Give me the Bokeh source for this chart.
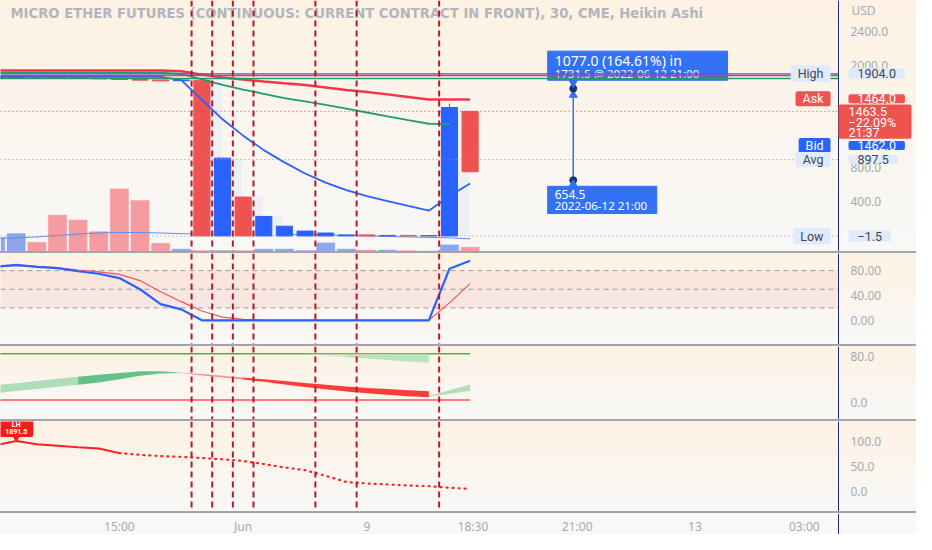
from bokeh.plotting import figure
from bokeh.layouts import column
from bokeh.models import (Range1d, FixedTicker, Span, Label, BoxAnnotation, Spacer,
                          NumeralTickFormatter, ColumnDataSource, LinearAxis)
from bokeh.core.properties import value
from bokeh.embed import file_html
from bokeh.resources import INLINE

# ---------------- data ----------------
bar_idx = list(range(-1, 23))
ha_open = [1850, 1855, 1872, 1866, 1858, 1852, 1846, 1838, 1832, 1824, 1829, 0, 457, 0, 0, 0, 0, 0, 12, 0, 6, 0, 0, 1463]
ha_close = [1880, 1875, 1866, 1858, 1852, 1846, 1838, 1830, 1822, 1832, 0, 914, 0, 229, 114, 57, 34, 12, 0, 6, 0, 4, 1509, 754]
wick_idx = [21]
wick_high = [1555]
ghost_idx = [9, 10, 11, 12, 21]
ghost_top = [1817, 903, 457, 229, 1540]
volume = [1500, 1900, 1000, 3800, 3300, 2100, 6500, 5300, 900, 300, 150, 150, 150, 300, 300, 150, 950, 300, 200, 200, 150, 100, 750, 500]
volume_ma = [1350, 1400, 1500, 1650, 1800, 1900, 1970, 1950, 1900, 1830, 1800, 1800, 1800, 1790, 1770, 1740, 1700, 1650, 1600, 1550, 1500, 1450, 1400, 1300]
ema_red = [1943, 1943, 1943, 1943, 1943, 1943, 1943, 1943, 1943, 1935, 1895, 1862, 1838, 1815, 1793, 1772, 1745, 1715, 1690, 1663, 1633, 1603, 1603, 1603]
ema_green = [1918, 1918, 1918, 1918, 1918, 1918, 1918, 1918, 1918, 1905, 1840, 1775, 1720, 1670, 1620, 1580, 1540, 1495, 1450, 1405, 1360, 1318, 1316]
vwap_blue = [1870, 1870, 1870, 1870, 1870, 1870, 1870, 1870, 1868, 1830, 1600, 1370, 1178, 1008, 864, 733, 626, 539, 468, 410, 352, 297, 469, 617]
level_high, level_red, level_green = 1904.0, 1886.0, 1851.0
last_price, avg_price, low_price = 1464.0, 897.5, -1.5
price_ticks = [400, 800, 1200, 1600, 2000, 2400]
last_lines = ["1463.5", "\u221222.09%", "21:37"]

stoch_k = [86, 89.4, 86, 84, 79, 75, 68, 50, 26, 17.6, 0, 0, 0, 0, 0, 0, 0, 0, 0, 0, 0, 0, 83, 96]
stoch_d = [86, 88, 87, 85, 81, 78, 74, 64, 46, 30, 15, 5, 1.5, 0, 0, 0, 0, 0, 0, 0, 0, 0, 28, 59]
stoch_levels = [80, 50, 20]
stoch_ticks = [0, 40, 80]

cloud_up_idx = list(range(-1, 9))
cloud_up_top = [30, 33, 37, 41, 44.5, 48, 51, 54, 54, 51.5]
cloud_up_bot = [16, 19.5, 23, 27, 30.5, 34.5, 40, 46, 50, 51]
cloud_dn_idx = list(range(8, 21))
cloud_dn_top = [51.5, 49, 46, 43, 40, 37, 33.5, 30.5, 27.5, 25, 23, 21, 19]
cloud_dn_bot = [51, 46.5, 43, 39.5, 35.5, 31, 26.5, 22.5, 18.5, 15.5, 13, 10.5, 8.6]
cloud_end_idx = [20, 21, 22]
cloud_end_top = [11, 21, 31]
cloud_end_bot = [9.5, 15, 19.6]
top_band_idx = list(range(14, 21))
top_band_bot = [83.5, 81, 78.5, 76, 73.5, 71, 68.7]
upper_level, lower_level = 84.6, 4.0
cloud_ticks = [0, 80]

lh_solid_idx = list(range(-1, 6))
lh_solid = [93, 101.4, 95, 92, 89, 86.3, 77]
lh_dot_idx = list(range(5, 23))
lh_dot = [77, 73.5, 71, 69.5, 67, 64.5, 61, 55, 48, 42.5, 31, 18.5, 15.5, 13.5, 11.5, 10, 7, 4.5]
lh_ticks = [0, 50, 100]

event_lines = [8.5, 9.5, 10.5, 11.5, 14.5, 16.5, 20.5]
time_ticks = [-1, 5, 11, 17, 22.14, 27.19, 32.9, 38.2]
time_labels = ["12:00", "15:00", "Jun", "9", "18:30", "21:00", "13", "03:00"]

ruler_x, ruler_top, ruler_bot = 27, 1731.5, 654.5

# ---------------- layout / styling ----------------
W = 916
FW = 838                      # width of the chart area left of the price scale
H1, H2, H3, H4, H5 = 251, 91, 73, 90, 21
X0, XB = -0.762, 39.857       # visible bar range of the chart area
X1 = X0 + (XB - X0) * W / FW  # frame continues under the price scale
NAVY = "#1f2b6b"
RED = "#ef5350"
BLUE = "#2962ff"
GREEN = "#1e9e6e"
AX_TXT = "#a6a9b2"
DASH_RED = "#b2182b"
FONT = "Noto Sans"
TAGFONT = "Roboto"
GRAD = {"background": "linear-gradient(180deg, #fdf2e3 0%, #f8f8f7 100%)"}

xr = Range1d(X0, X1)


def pane(h, y0, y1, ticks, fmt):
    p = figure(width=W, height=h, x_range=xr, y_range=Range1d(y0, y1),
               output_backend="svg", toolbar_location=None,
               x_axis_location=None, y_axis_location=None,
               min_border_left=0, min_border_right=0, min_border_top=0, min_border_bottom=0,
               background_fill_color=None, border_fill_color=None, outline_line_color=None)
    p.grid.visible = False
    ax = LinearAxis(fixed_location=XB, ticker=FixedTicker(ticks=ticks),
                    formatter=NumeralTickFormatter(format=fmt))
    ax.axis_line_color = NAVY
    ax.axis_line_width = 1
    ax.major_tick_line_color = None
    ax.minor_tick_line_color = None
    ax.major_tick_out = 0
    ax.major_tick_in = 0
    ax.major_label_text_color = AX_TXT
    ax.major_label_text_font = FONT
    ax.major_label_text_font_size = "12px"
    ax.major_label_standoff = 12
    p.add_layout(ax, "right")
    p.styles = GRAD
    return p


def hline(p, y, **kw):
    p.segment(x0=[X0], y0=[y], x1=[XB], y1=[y], **kw)


def add_events(p):
    for v in event_lines:
        p.add_layout(Span(location=v, dimension="height", line_color=DASH_RED,
                          line_width=2, line_dash="6 4"))


def sep():
    return Spacer(width=W, height=2, margin=0, styles={"background-color": "#a3a5ab"})


# ---------------- main pane ----------------
p1 = pane(H1, -183, 2766, price_ticks, "0.0")
p1.extra_y_ranges = {"vol": Range1d(0, 25800)}

vol_colors, candle_colors, tops, bots = [], [], [], []
for o, c in zip(ha_open, ha_close):
    up = c >= o
    candle_colors.append(BLUE if up else RED)
    vol_colors.append("#8ea6ec" if up else "#f59ca1")
    tops.append(max(o, c))
    bots.append(min(o, c))

src = ColumnDataSource(dict(x=bar_idx, top=tops, bottom=bots, col=candle_colors,
                            vol=volume, vcol=vol_colors))
p1.vbar(x="x", top="vol", bottom=0, width=0.94, fill_color="vcol", line_color="white",
        line_width=0.6, source=src, y_range_name="vol")
p1.line(bar_idx, volume_ma, y_range_name="vol", line_color="#5b8def", line_width=1)
p1.vbar(x=[i + 0.67 for i in ghost_idx], top=ghost_top, bottom=0, width=0.57,
        fill_color="#eceff3", line_color=None)
p1.segment(x0=wick_idx, y0=[tops[bar_idx.index(i)] for i in wick_idx], x1=wick_idx,
           y1=wick_high, line_color=BLUE, line_width=1)
p1.vbar(x="x", top="top", bottom="bottom", width=0.78, fill_color="col", line_color="col",
        source=src)
p1.line(bar_idx, ema_red, line_color="#f23645", line_width=2.5)
p1.line(bar_idx[:len(ema_green)], ema_green, line_color=GREEN, line_width=1.8)
p1.line(bar_idx, vwap_blue, line_color=BLUE, line_width=1.8)

hline(p1, last_price, line_color="#f23645", line_width=1, line_dash="1 3")
hline(p1, avg_price, line_color="#9598a1", line_width=1, line_dash="1 3")
hline(p1, low_price, line_color="#9598a1", line_width=1, line_dash="1 3")

# ruler tool
RCOL = "#3371f5"
p1.segment(x0=[ruler_x], y0=[ruler_bot], x1=[ruler_x], y1=[ruler_top - 60],
           line_color="#3a6ff7", line_width=1.5)
p1.scatter([ruler_x], [ruler_top - 75], marker="triangle", size=8, color="#3a6ff7")
p1.scatter([ruler_x, ruler_x], [ruler_top, ruler_bot], size=7, color="#1c2f6e")
p1.quad(left=[25.76], right=[34.48], top=[2171], bottom=[1829], fill_color=RCOL, line_color=RCOL)
p1.scatter([ruler_x], [1805], marker="inverted_triangle", size=9, color=RCOL)
p1.quad(left=[25.76], right=[31.05], top=[583], bottom=[263], fill_color=RCOL, line_color=RCOL)
p1.scatter([ruler_x], [600], marker="triangle", size=9, color=RCOL)
p1.text(x=[26.1], y=[2057], text=["1077.0 (164.61%) in"], text_color="white",
        text_font=value(FONT), text_font_size="14px", text_baseline="middle")
p1.text(x=[26.1], y=[1905], text=["1731.5 @ 2022-06-12  21:00"], text_color="white",
        text_font=value(FONT), text_font_size="11.5px", text_baseline="middle")
p1.text(x=[26.1], y=[491], text=["654.5"], text_color="white",
        text_font=value(FONT), text_font_size="12px", text_baseline="middle")
p1.text(x=[26.1], y=[354], text=["2022-06-12 21:00"], text_color="white",
        text_font=value(FONT), text_font_size="11.5px", text_baseline="middle")

# full-width level lines (drawn over the ruler box as in the original)
hline(p1, level_high, line_color=BLUE, line_width=1.2)
hline(p1, level_red, line_color="#f23645", line_width=1.5)
hline(p1, level_green, line_color=GREEN, line_width=1.5)

# title + currency
p1.add_layout(Label(x=10, y=H1 - 13, x_units="screen", y_units="screen",
                    text="MICRO ETHER FUTURES (CONTINUOUS: CURRENT CONTRACT IN FRONT), 30, CME, Heikin Ashi",
                    text_color="#b2b5be", text_font="DejaVu Sans", text_font_style="bold",
                    text_font_size="13.2px", text_baseline="middle"))
p1.add_layout(Label(x=XB, x_offset=13, y=H1 - 10, y_units="screen", text="USD",
                    text_color=AX_TXT, text_font=FONT, text_font_size="12px",
                    text_baseline="middle"))
add_events(p1)

# price-scale tags
LIGHT = "#dfeafb"
tag_rows = [
    ("High", "1904.0", 1904.0, LIGHT, "#434651", 1),
    ("Ask", "1464.0", 1611.0, RED, "white", 0),
    ("Bid", "1462.0", 1063.0, BLUE, "white", 0),
    ("Avg", "897.5", 897.5, LIGHT, "#434651", 0),
    ("Low", "\u22121.5", -1.5, LIGHT, "#434651", 1),
]
for name, val, ypos, bg, fg, vpad in tag_rows:
    p1.add_layout(Label(x=XB, x_offset=-8, y=ypos, text=name, text_align="right",
                        text_baseline="middle", text_color=fg, text_font=TAGFONT,
                        text_font_size="12.5px", background_fill_color=bg,
                        padding=(7, vpad), border_radius=2))
    p1.add_layout(Label(x=XB, x_offset=10, y=ypos, text=val, text_align="left",
                        text_baseline="middle", text_color=fg, text_font=TAGFONT,
                        text_font_size="12.5px", background_fill_color=bg,
                        padding=(9, vpad), border_radius=2))

# last-price tag: red box with three lines
p1.add_layout(BoxAnnotation(left=FW, right=FW + 73, left_units="screen", right_units="screen",
                            top=1543, bottom=1143, fill_color=RED, fill_alpha=1,
                            line_color=None, border_radius=2))
for txt, ypos in zip(last_lines, [1463, 1337, 1211]):
    p1.add_layout(Label(x=XB, x_offset=10, y=ypos, text=txt, text_align="left",
                        text_baseline="middle", text_color="white", text_font=TAGFONT,
                        text_font_size="12.5px"))

# ---------------- pane 2: stochastic ----------------
p2 = pane(H2, -39, 107.6, stoch_ticks, "0.00")
p2.add_layout(BoxAnnotation(left=X0, right=XB, bottom=20, top=80, fill_color="#f7d5d0",
                            fill_alpha=0.45, line_color=None, level="underlay"))
for lv in stoch_levels:
    hline(p2, lv, line_color="#9a9ca3", line_width=1, line_dash="5 4")
p2.line(bar_idx, stoch_d, line_color="#f7525f", line_width=1.2)
p2.line(bar_idx, stoch_k, line_color=BLUE, line_width=2.2)
add_events(p2)

# ---------------- pane 3: cloud ----------------
p3 = pane(H3, -30, 97, cloud_ticks, "0.0")
p3.line([bar_idx[0], bar_idx[-1]], [upper_level, upper_level], line_color="#4caf50", line_width=1.5)
p3.line([bar_idx[0], bar_idx[-1]], [lower_level, lower_level], line_color="#ff5252", line_width=1.5)
p3.varea(x=top_band_idx[:3], y1=[upper_level] * 3, y2=top_band_bot[:3], fill_color="#d4d4d4", fill_alpha=0.6)
p3.varea(x=top_band_idx[2:], y1=[upper_level] * 5, y2=top_band_bot[2:], fill_color="#b5dfb8", fill_alpha=0.9)
p3.varea(x=cloud_up_idx[:5], y1=cloud_up_top[:5], y2=cloud_up_bot[:5], fill_color="#9fd8b0", fill_alpha=0.85)
p3.varea(x=cloud_up_idx[4:], y1=cloud_up_top[4:], y2=cloud_up_bot[4:], fill_color="#52bb80", fill_alpha=0.9)
p3.varea(x=cloud_dn_idx[:4], y1=cloud_dn_top[:4], y2=cloud_dn_bot[:4], fill_color="#ff6f6f", fill_alpha=0.75)
p3.varea(x=cloud_dn_idx[3:], y1=cloud_dn_top[3:], y2=cloud_dn_bot[3:], fill_color="#ff2a2a", fill_alpha=0.92)
p3.varea(x=cloud_end_idx, y1=cloud_end_top, y2=cloud_end_bot, fill_color="#a8dcae", fill_alpha=0.9)
add_events(p3)

# ---------------- pane 4: LH line ----------------
p4 = pane(H4, -41.2, 141, lh_ticks, "0.0")
p4.line(lh_solid_idx, lh_solid, line_color="#ff2020", line_width=2)
p4.line(lh_dot_idx, lh_dot, line_color="#ff2020", line_width=2.2, line_dash="1 5", line_cap="round")
p4.scatter([0], [lh_solid[1] + 6], marker="inverted_triangle", size=6, color="#ff1a1a")
p4.add_layout(Label(x=0, y=lh_solid[1], y_offset=4, text="LH\n1891.5", text_align="center",
                    text_baseline="bottom", text_color="white", text_font=TAGFONT,
                    text_font_style="bold", text_font_size="7px", text_line_height=0.85,
                    background_fill_color="#ff1a1a", padding=(6, 1), border_radius=2))
add_events(p4)

# ---------------- time axis ----------------
p5 = figure(width=W, height=H5, x_range=xr, y_range=Range1d(0, H5),
            output_backend="svg", toolbar_location=None,
            x_axis_location=None, y_axis_location=None,
            min_border_left=0, min_border_right=0, min_border_top=0, min_border_bottom=0,
            background_fill_color=None, border_fill_color=None, outline_line_color=None)
p5.grid.visible = False
xa = LinearAxis(fixed_location=H5, ticker=FixedTicker(ticks=time_ticks))
xa.major_label_overrides = {t: s for t, s in zip(time_ticks, time_labels)}
xa.axis_line_color = None
xa.major_tick_line_color = None
xa.minor_tick_line_color = None
xa.major_tick_out = 0
xa.major_tick_in = 0
xa.major_label_standoff = 4
xa.major_label_text_color = AX_TXT
xa.major_label_text_font = FONT
xa.major_label_text_font_size = "12px"
p5.add_layout(xa, "below")
p5.add_layout(Span(location=XB, dimension="height", line_color=NAVY, line_width=1))
p5.styles = {"background": "#f8f8f8"}

layout = column(p1, sep(), p2, sep(), p3, sep(), p4, sep(), p5, spacing=0)
open("out.html", "w").write(file_html(layout, INLINE))
